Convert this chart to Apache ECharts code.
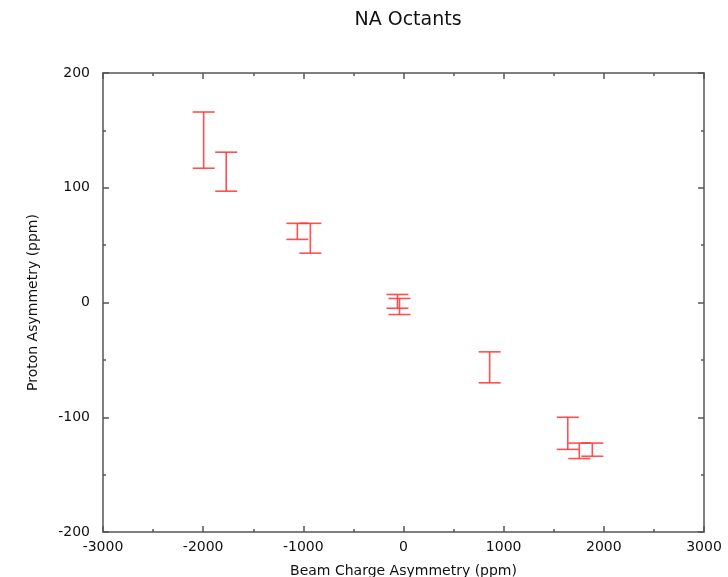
<!DOCTYPE html>
<html>
<head>
<meta charset="utf-8">
<title>NA Octants</title>
<script src="https://cdn.jsdelivr.net/npm/echarts@6/dist/echarts.min.js"></script>
<style>
	html, body {
		margin: 0;
		padding: 0;
		background: #fff;
	}
	#chart {
		width: 728px;
		height: 577px;
	}
</style>
</head>
<body>
<div id="chart"></div>
<script>
	// beam charge asymmetry (ppm) for each octant point
	const beamCharge = [-1995, -1770, -1060, -930, -60, -40, 860, 1640, 1755, 1885];
	// proton asymmetry error bar ends (ppm)
	const protonLow = [117, 97, 55, 43, -5, -10.5, -70, -128, -136, -134];
	const protonHigh = [166, 131, 69, 69, 7, 3.5, -43, -100, -122.5, -122.5];

	const xTicks = [-3000, -2000, -1000, 0, 1000, 2000, 3000];
	const yTicks = [-200, -100, 0, 100, 200];

	const chart = echarts.init(document.getElementById("chart"));

	const points = beamCharge.map((x, i) => [x, protonLow[i], protonHigh[i]]);

	const barColor = "rgba(255, 50, 50, 0.85)";
	const capHalf = 11;
	const font = "DejaVu Sans";

	const renderErrorBar = (params, api) => {
		const lo = api.coord([api.value(0), api.value(1)]);
		const hi = api.coord([api.value(0), api.value(2)]);
		const style = { stroke: barColor, lineWidth: 1.6 };
		return {
			type: "group",
			children: [
				{ type: "line", shape: { x1: hi[0], y1: hi[1], x2: lo[0], y2: lo[1] }, style },
				{ type: "line", shape: { x1: hi[0] - capHalf, y1: hi[1], x2: hi[0] + capHalf, y2: hi[1] }, style },
				{ type: "line", shape: { x1: lo[0] - capHalf, y1: lo[1], x2: lo[0] + capHalf, y2: lo[1] }, style }
			]
		};
	};

	const axisLine = { show: true, onZero: false, lineStyle: { color: "#555", width: 1.5 } };
	const tick = { inside: true, length: 6, lineStyle: { color: "#555", width: 1.5 } };
	const minor = { show: true, splitNumber: 2, length: 3, lineStyle: { color: "#555", width: 1.5 } };
	const plain = v => String(v);

	const option = {
		animation: false,
		backgroundColor: "#fff",
		title: {
			text: "NA Octants",
			left: 403,
			top: 6,
			textAlign: "center",
			textStyle: { fontFamily: font, fontSize: 19, fontWeight: "normal", color: "#111" }
		},
		grid: {
			left: 103,
			right: 24,
			top: 73,
			bottom: 45,
			outerBoundsMode: "none"
		},
		xAxis: [
			{
				type: "value",
				position: "bottom",
				min: xTicks[0],
				max: xTicks[xTicks.length - 1],
				interval: 1000,
				name: "Beam Charge Asymmetry (ppm)",
				nameLocation: "middle",
				nameGap: 32,
				nameTextStyle: { fontFamily: font, fontSize: 14, color: "#111" },
				axisLine,
				axisTick: tick,
				minorTick: minor,
				axisLabel: { fontFamily: font, fontSize: 14, color: "#111", margin: 8, formatter: plain },
				splitLine: { show: false }
			},
			{
				type: "value",
				position: "top",
				min: xTicks[0],
				max: xTicks[xTicks.length - 1],
				interval: 1000,
				axisLine,
				axisTick: tick,
				minorTick: minor,
				axisLabel: { show: false },
				splitLine: { show: false }
			}
		],
		yAxis: [
			{
				type: "value",
				position: "left",
				min: yTicks[0],
				max: yTicks[yTicks.length - 1],
				interval: 100,
				name: "Proton Asymmetry (ppm)",
				nameLocation: "middle",
				nameGap: 63,
				nameTextStyle: { fontFamily: font, fontSize: 14, color: "#111" },
				axisLine,
				axisTick: tick,
				minorTick: minor,
				axisLabel: { fontFamily: font, fontSize: 14, color: "#111", margin: 13, formatter: plain },
				splitLine: { show: false }
			},
			{
				type: "value",
				position: "right",
				min: yTicks[0],
				max: yTicks[yTicks.length - 1],
				interval: 100,
				axisLine,
				axisTick: tick,
				minorTick: minor,
				axisLabel: { show: false },
				splitLine: { show: false }
			}
		],
		series: [
			{
				type: "custom",
				xAxisIndex: 0,
				yAxisIndex: 0,
				renderItem: renderErrorBar,
				encode: { x: 0, y: [1, 2] },
				data: points
			}
		]
	};

	chart.setOption(option);
</script>
</body>
</html>
